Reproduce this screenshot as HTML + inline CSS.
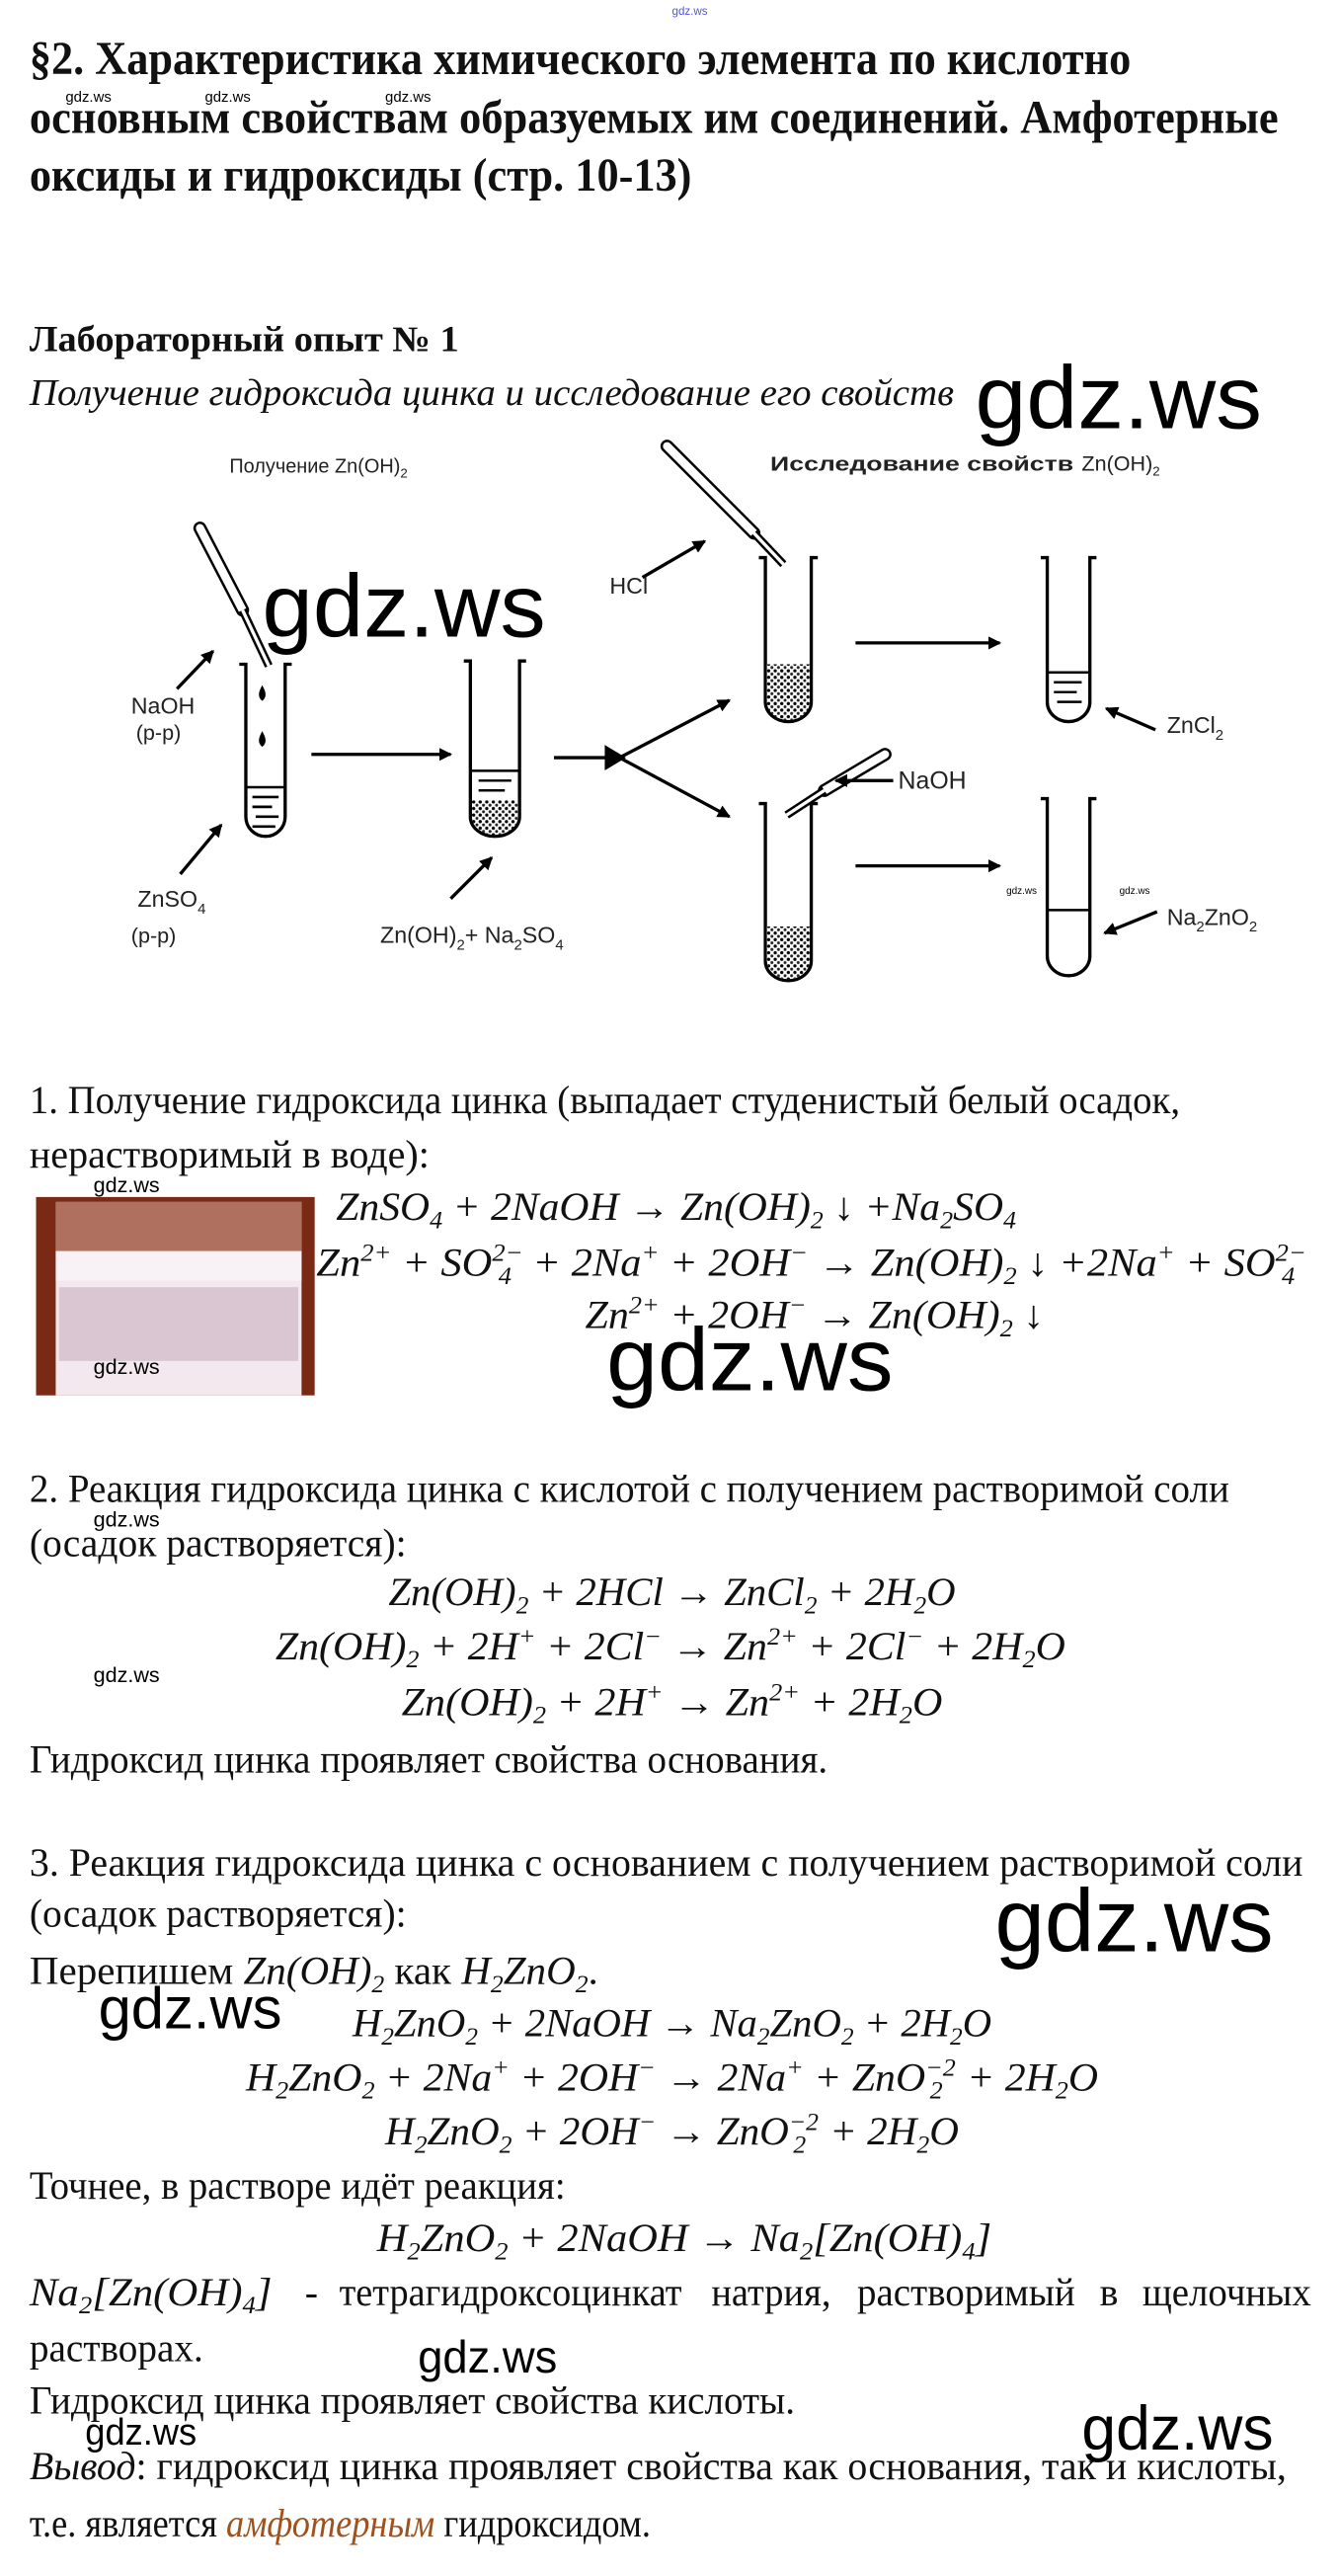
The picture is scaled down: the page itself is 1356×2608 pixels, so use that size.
<!DOCTYPE html>
<html><head><meta charset="utf-8">
<style>
html,body{margin:0;padding:0;background:#fff;}
svg{display:block;}
.t{font-family:"Liberation Serif",serif;fill:#111;}
.m{font-family:"Liberation Serif",serif;font-style:italic;fill:#111;}
.w{font-family:"Liberation Sans",sans-serif;fill:#000;}
.d{font-family:"Liberation Sans",sans-serif;fill:#222;}
</style></head><body>
<svg width="1356" height="2608" viewBox="0 0 817 1571" xmlns="http://www.w3.org/2000/svg">
<defs>
<marker id="ah" markerWidth="8" markerHeight="8" refX="7" refY="4" orient="auto" markerUnits="userSpaceOnUse">
<path d="M0,0 L8,4 L0,8 z" fill="#000"/></marker>
<pattern id="pp" width="4" height="4" patternUnits="userSpaceOnUse">
<rect width="4" height="4" fill="#fff"/><circle cx="1" cy="1" r="1" fill="#000"/><circle cx="3" cy="3" r="0.9" fill="#222"/></pattern>
</defs>

<text x="410" y="9" class="w" font-size="7" style="fill:#5555dd">gdz.ws</text>

<text x="18" y="45" class="t" font-weight="bold" font-size="29" textLength="672" lengthAdjust="spacingAndGlyphs">§2. Характеристика химического элемента по кислотно</text>
<text x="18" y="81" class="t" font-weight="bold" font-size="29" textLength="762" lengthAdjust="spacingAndGlyphs">основным свойствам образуемых им соединений. Амфотерные</text>
<text x="18" y="116" class="t" font-weight="bold" font-size="29" textLength="404" lengthAdjust="spacingAndGlyphs">оксиды и гидроксиды (стр. 10-13)</text>
<text x="40" y="62" class="w" font-size="9">gdz.ws</text>
<text x="125" y="62" class="w" font-size="9">gdz.ws</text>
<text x="235" y="62" class="w" font-size="9">gdz.ws</text>

<text x="18" y="214" class="t" font-weight="bold" font-size="22" textLength="262" lengthAdjust="spacingAndGlyphs">Лабораторный опыт № 1</text>
<text x="18" y="247" class="m" font-size="23" textLength="564" lengthAdjust="spacingAndGlyphs">Получение гидроксида цинка и исследование его свойств</text>
<text x="595" y="261" class="w" font-size="54" textLength="175" lengthAdjust="spacingAndGlyphs">gdz.ws</text>

<!-- diagram -->
<g stroke="#000" stroke-width="2" fill="none">
<text x="140" y="288" class="d" font-size="12" stroke="none">Получение  Zn(OH)<tspan dy="3" font-size="8">2</tspan></text>
<text x="470" y="287" class="d" font-size="12" font-weight="bold" stroke="none" textLength="185" lengthAdjust="spacingAndGlyphs">Исследование свойств</text>
<text x="660" y="287" class="d" font-size="13" stroke="none">Zn(OH)<tspan dy="3" font-size="8">2</tspan></text>

<!-- tube1 -->
<path d="M146,405 L150,405 L150,498 A12,12 0 0 0 174,498 L174,405 L178,405"/>
<g stroke-width="1.6"><line x1="154" y1="486" x2="170" y2="486"/><line x1="154" y1="492" x2="166" y2="492"/><line x1="156" y1="498" x2="170" y2="498"/><line x1="154" y1="504" x2="168" y2="504"/></g>
<line x1="150" y1="480" x2="174" y2="480" stroke-width="1.5"/>
<path d="M160,420 q-2,4 0,6 q2,-2 0,-6z" fill="#000"/>
<path d="M160,448 q-2,4 0,6 q2,-2 0,-6z" fill="#000"/>
<!-- pipette1 -->
<line x1="122" y1="322" x2="148" y2="372" stroke-width="8" stroke-linecap="round"/>
<line x1="122" y1="322" x2="148" y2="372" stroke-width="5" stroke="#fff" stroke-linecap="round"/>
<line x1="148" y1="372" x2="164" y2="406" stroke-width="5"/>
<line x1="148" y1="372" x2="164" y2="406" stroke-width="2" stroke="#fff"/>
<text x="80" y="435" class="d" font-size="14" stroke="none">NaOH</text>
<text x="83" y="451" class="d" font-size="13" stroke="none">(р-р)</text>
<line x1="108" y1="420" x2="130" y2="397" marker-end="url(#ah)"/>
<text x="84" y="553" class="d" font-size="14" stroke="none">ZnSO<tspan dy="4" font-size="9">4</tspan></text>
<text x="80" y="575" class="d" font-size="13" stroke="none">(р-р)</text>
<line x1="110" y1="533" x2="135" y2="503" marker-end="url(#ah)"/>

<line x1="190" y1="460" x2="275" y2="460" marker-end="url(#ah)"/>

<!-- tube2 -->
<path d="M283,403 L287,403 L287,498 A15,12 0 0 0 317,498 L317,403 L321,403"/>
<path d="M288,488 L316,488 L316,498 A14,11 0 0 1 288,498z" fill="url(#pp)" stroke="none"/>
<line x1="287" y1="470" x2="317" y2="470" stroke-width="1.5"/>
<g stroke-width="1.5"><line x1="292" y1="476" x2="312" y2="476"/><line x1="292" y1="482" x2="308" y2="482"/></g>
<text x="232" y="575" class="d" font-size="14" stroke="none">Zn(OH)<tspan dy="4" font-size="9">2</tspan><tspan dy="-4">+ Na</tspan><tspan dy="4" font-size="9">2</tspan><tspan dy="-4">SO</tspan><tspan dy="4" font-size="9">4</tspan></text>
<line x1="275" y1="548" x2="300" y2="523" marker-end="url(#ah)"/>

<!-- fork -->
<line x1="338" y1="462" x2="378" y2="462"/>
<line x1="378" y1="462" x2="445" y2="427" marker-end="url(#ah)"/>
<line x1="378" y1="462" x2="445" y2="498" marker-end="url(#ah)"/>
<path d="M370,456 L380,462 L370,468z" fill="#000"/>

<!-- tube3 -->
<path d="M463,340 L467,340 L467,428 A14,12 0 0 0 495,428 L495,340 L499,340"/>
<path d="M468,405 L494,405 L494,428 A13,11 0 0 1 468,428z" fill="url(#pp)" stroke="none"/>
<line x1="407" y1="272" x2="460" y2="325" stroke-width="8" stroke-linecap="round"/>
<line x1="407" y1="272" x2="460" y2="325" stroke-width="5" stroke="#fff" stroke-linecap="round"/>
<line x1="460" y1="325" x2="478" y2="344" stroke-width="5"/>
<line x1="460" y1="325" x2="478" y2="344" stroke-width="2" stroke="#fff"/>
<text x="372" y="362" class="d" font-size="14" stroke="none">HCl</text>
<line x1="392" y1="352" x2="430" y2="330" marker-end="url(#ah)"/>

<!-- tube4 -->
<path d="M463,490 L467,490 L467,586 A14,12 0 0 0 495,586 L495,490 L499,490"/>
<path d="M468,565 L494,565 L494,586 A13,11 0 0 1 468,586z" fill="url(#pp)" stroke="none"/>
<line x1="540" y1="460" x2="503" y2="482" stroke-width="8" stroke-linecap="round"/>
<line x1="540" y1="460" x2="503" y2="482" stroke-width="5" stroke="#fff" stroke-linecap="round"/>
<line x1="503" y1="482" x2="480" y2="497" stroke-width="5"/>
<line x1="503" y1="482" x2="480" y2="497" stroke-width="2" stroke="#fff"/>
<text x="548" y="481" class="d" font-size="15" stroke="none">NaOH</text>
<line x1="545" y1="476" x2="510" y2="476" marker-end="url(#ah)"/>

<line x1="522" y1="392" x2="610" y2="392" marker-end="url(#ah)"/>
<line x1="522" y1="528" x2="610" y2="528" marker-end="url(#ah)"/>

<!-- tube5 -->
<path d="M635,340 L639,340 L639,428 A13,12 0 0 0 665,428 L665,340 L669,340"/>
<line x1="639" y1="410" x2="665" y2="410" stroke-width="1.5"/>
<g stroke-width="1.5"><line x1="643" y1="416" x2="660" y2="416"/><line x1="643" y1="422" x2="657" y2="422"/><line x1="645" y1="428" x2="660" y2="428"/></g>
<text x="712" y="447" class="d" font-size="14" stroke="none">ZnCl<tspan dy="4" font-size="9">2</tspan></text>
<line x1="705" y1="445" x2="675" y2="432" marker-end="url(#ah)"/>

<!-- tube6 -->
<path d="M635,487 L639,487 L639,583 A13,12 0 0 0 665,583 L665,487 L669,487"/>
<line x1="639" y1="555" x2="665" y2="555" stroke-width="1.5"/>
<text x="712" y="564" class="d" font-size="14" stroke="none">Na<tspan dy="4" font-size="9">2</tspan><tspan dy="-4">ZnO</tspan><tspan dy="4" font-size="9">2</tspan></text>
<line x1="706" y1="556" x2="674" y2="569" marker-end="url(#ah)"/>
<text x="614" y="545" class="w" font-size="6" stroke="none">gdz.ws</text>
<text x="683" y="545" class="w" font-size="6" stroke="none">gdz.ws</text>
</g>
<text x="160" y="388" class="w" font-size="54" textLength="173" lengthAdjust="spacingAndGlyphs">gdz.ws</text>

<!-- section 1 -->
<text x="18" y="679" class="t" font-size="24" textLength="702" lengthAdjust="spacingAndGlyphs">1. Получение гидроксида цинка (выпадает студенистый белый осадок,</text>
<text x="18" y="712" class="t" font-size="24" textLength="244" lengthAdjust="spacingAndGlyphs">нерастворимый в воде):</text>
<text x="57" y="727" class="w" font-size="13">gdz.ws</text>
<rect x="22" y="730" width="170" height="121" fill="#7a2a14"/>
<rect x="34" y="733" width="150" height="118" fill="#f3e8ee"/>
<rect x="34" y="733" width="150" height="30" fill="#b07060"/>
<rect x="34" y="763" width="150" height="18" fill="#f8f2f6"/>
<rect x="36" y="785" width="146" height="45" fill="#d9c6d2"/>
<text x="57" y="838" class="w" font-size="13">gdz.ws</text>

<text x="205" y="744" class="m" font-size="24" textLength="415" lengthAdjust="spacingAndGlyphs">ZnSO<tspan dy="5" font-size="15">4</tspan><tspan dy="-5"> + 2NaOH → Zn(OH)</tspan><tspan dy="5" font-size="15">2</tspan><tspan dy="-5"> ↓ +Na</tspan><tspan dy="5" font-size="15">2</tspan><tspan dy="-5">SO</tspan><tspan dy="5" font-size="15">4</tspan></text>
<text x="193" y="778" class="m" font-size="24" textLength="604" lengthAdjust="spacingAndGlyphs">Zn<tspan dy="-9" font-size="15">2+</tspan><tspan dy="9"> + SO</tspan><tspan dy="-9" font-size="15">2−</tspan><tspan dx="-14" dy="14" font-size="15">4</tspan><tspan dx="6" dy="-5"> + 2Na</tspan><tspan dy="-9" font-size="15">+</tspan><tspan dy="9"> + 2OH</tspan><tspan dy="-9" font-size="15">−</tspan><tspan dy="9"> → Zn(OH)</tspan><tspan dy="5" font-size="15">2</tspan><tspan dy="-5"> ↓ +2Na</tspan><tspan dy="-9" font-size="15">+</tspan><tspan dy="9"> + SO</tspan><tspan dy="-9" font-size="15">2−</tspan><tspan dx="-14" dy="14" font-size="15">4</tspan></text>
<text x="357" y="810" class="m" font-size="24" textLength="280" lengthAdjust="spacingAndGlyphs">Zn<tspan dy="-9" font-size="15">2+</tspan><tspan dy="9"> + 2OH</tspan><tspan dy="-9" font-size="15">−</tspan><tspan dy="9"> → Zn(OH)</tspan><tspan dy="5" font-size="15">2</tspan><tspan dy="-5"> ↓</tspan></text>
<text x="370" y="848" class="w" font-size="54" textLength="175" lengthAdjust="spacingAndGlyphs">gdz.ws</text>

<!-- section 2 -->
<text x="18" y="916" class="t" font-size="24" textLength="732" lengthAdjust="spacingAndGlyphs">2. Реакция гидроксида цинка с кислотой с получением растворимой соли</text>
<text x="57" y="931" class="w" font-size="13">gdz.ws</text>
<text x="18" y="949" class="t" font-size="24" textLength="230" lengthAdjust="spacingAndGlyphs">(осадок растворяется):</text>
<text x="237" y="979" class="m" font-size="24" textLength="346" lengthAdjust="spacingAndGlyphs">Zn(OH)<tspan dy="5" font-size="15">2</tspan><tspan dy="-5"> + 2HCl → ZnCl</tspan><tspan dy="5" font-size="15">2</tspan><tspan dy="-5"> + 2H</tspan><tspan dy="5" font-size="15">2</tspan><tspan dy="-5">O</tspan></text>
<text x="168" y="1012" class="m" font-size="24" textLength="482" lengthAdjust="spacingAndGlyphs">Zn(OH)<tspan dy="5" font-size="15">2</tspan><tspan dy="-5"> + 2H</tspan><tspan dy="-9" font-size="15">+</tspan><tspan dy="9"> + 2Cl</tspan><tspan dy="-9" font-size="15">−</tspan><tspan dy="9"> → Zn</tspan><tspan dy="-9" font-size="15">2+</tspan><tspan dy="9"> + 2Cl</tspan><tspan dy="-9" font-size="15">−</tspan><tspan dy="9"> + 2H</tspan><tspan dy="5" font-size="15">2</tspan><tspan dy="-5">O</tspan></text>
<text x="57" y="1026" class="w" font-size="13">gdz.ws</text>
<text x="245" y="1046" class="m" font-size="24" textLength="330" lengthAdjust="spacingAndGlyphs">Zn(OH)<tspan dy="5" font-size="15">2</tspan><tspan dy="-5"> + 2H</tspan><tspan dy="-9" font-size="15">+</tspan><tspan dy="9"> → Zn</tspan><tspan dy="-9" font-size="15">2+</tspan><tspan dy="9"> + 2H</tspan><tspan dy="5" font-size="15">2</tspan><tspan dy="-5">O</tspan></text>
<text x="18" y="1081" class="t" font-size="24" textLength="487" lengthAdjust="spacingAndGlyphs">Гидроксид цинка проявляет свойства основания.</text>

<!-- section 3 -->
<text x="18" y="1144" class="t" font-size="24" textLength="777" lengthAdjust="spacingAndGlyphs">3. Реакция гидроксида цинка с основанием с получением растворимой соли</text>
<text x="18" y="1175" class="t" font-size="24" textLength="230" lengthAdjust="spacingAndGlyphs">(осадок растворяется):</text>
<text x="607" y="1190" class="w" font-size="54" textLength="170" lengthAdjust="spacingAndGlyphs">gdz.ws</text>
<text x="18" y="1210" class="t" font-size="24" textLength="347" lengthAdjust="spacingAndGlyphs">Перепишем <tspan font-style="italic">Zn(OH)</tspan><tspan dy="5" font-size="15" font-style="italic">2</tspan><tspan dy="-5"> как </tspan><tspan font-style="italic">H</tspan><tspan dy="5" font-size="15" font-style="italic">2</tspan><tspan dy="-5" font-style="italic">ZnO</tspan><tspan dy="5" font-size="15" font-style="italic">2</tspan><tspan dy="-5">.</tspan></text>
<text x="60" y="1237" class="w" font-size="36" textLength="112" lengthAdjust="spacingAndGlyphs">gdz.ws</text>
<text x="215" y="1242" class="m" font-size="24" textLength="390" lengthAdjust="spacingAndGlyphs">H<tspan dy="5" font-size="15">2</tspan><tspan dy="-5">ZnO</tspan><tspan dy="5" font-size="15">2</tspan><tspan dy="-5"> + 2NaOH → Na</tspan><tspan dy="5" font-size="15">2</tspan><tspan dy="-5">ZnO</tspan><tspan dy="5" font-size="15">2</tspan><tspan dy="-5"> + 2H</tspan><tspan dy="5" font-size="15">2</tspan><tspan dy="-5">O</tspan></text>
<text x="150" y="1275" class="m" font-size="24" textLength="520" lengthAdjust="spacingAndGlyphs">H<tspan dy="5" font-size="15">2</tspan><tspan dy="-5">ZnO</tspan><tspan dy="5" font-size="15">2</tspan><tspan dy="-5"> + 2Na</tspan><tspan dy="-9" font-size="15">+</tspan><tspan dy="9"> + 2OH</tspan><tspan dy="-9" font-size="15">−</tspan><tspan dy="9"> → 2Na</tspan><tspan dy="-9" font-size="15">+</tspan><tspan dy="9"> + ZnO</tspan><tspan dy="-9" font-size="15">−2</tspan><tspan dx="-15" dy="14" font-size="15">2</tspan><tspan dx="8" dy="-5"> + 2H</tspan><tspan dy="5" font-size="15">2</tspan><tspan dy="-5">O</tspan></text>
<text x="235" y="1308" class="m" font-size="24" textLength="350" lengthAdjust="spacingAndGlyphs">H<tspan dy="5" font-size="15">2</tspan><tspan dy="-5">ZnO</tspan><tspan dy="5" font-size="15">2</tspan><tspan dy="-5"> + 2OH</tspan><tspan dy="-9" font-size="15">−</tspan><tspan dy="9"> → ZnO</tspan><tspan dy="-9" font-size="15">−2</tspan><tspan dx="-15" dy="14" font-size="15">2</tspan><tspan dx="8" dy="-5"> + 2H</tspan><tspan dy="5" font-size="15">2</tspan><tspan dy="-5">O</tspan></text>
<text x="18" y="1341" class="t" font-size="24" textLength="327" lengthAdjust="spacingAndGlyphs">Точнее, в растворе идёт реакция:</text>
<text x="230" y="1373" class="m" font-size="24" textLength="375" lengthAdjust="spacingAndGlyphs">H<tspan dy="5" font-size="15">2</tspan><tspan dy="-5">ZnO</tspan><tspan dy="5" font-size="15">2</tspan><tspan dy="-5"> + 2NaOH → Na</tspan><tspan dy="5" font-size="15">2</tspan><tspan dy="-5">[Zn(OH)</tspan><tspan dy="5" font-size="15">4</tspan><tspan dy="-5">]</tspan></text>
<text x="18" y="1406" class="m" font-size="24" textLength="148" lengthAdjust="spacingAndGlyphs">Na<tspan dy="5" font-size="15">2</tspan><tspan dy="-5">[Zn(OH)</tspan><tspan dy="5" font-size="15">4</tspan><tspan dy="-5">]</tspan></text>
<text x="186" y="1406" class="t" font-size="24">-</text>
<text x="207" y="1406" class="t" font-size="24" textLength="209" lengthAdjust="spacingAndGlyphs">тетрагидроксоцинкат</text>
<text x="434" y="1406" class="t" font-size="24" textLength="73" lengthAdjust="spacingAndGlyphs">натрия,</text>
<text x="523" y="1406" class="t" font-size="24" textLength="133" lengthAdjust="spacingAndGlyphs">растворимый</text>
<text x="671" y="1406" class="t" font-size="24">в</text>
<text x="697" y="1406" class="t" font-size="24" textLength="103" lengthAdjust="spacingAndGlyphs">щелочных</text>
<text x="18" y="1440" class="t" font-size="24" textLength="106" lengthAdjust="spacingAndGlyphs">растворах.</text>
<text x="255" y="1447" class="w" font-size="28" textLength="85" lengthAdjust="spacingAndGlyphs">gdz.ws</text>
<text x="18" y="1472" class="t" font-size="24" textLength="467" lengthAdjust="spacingAndGlyphs">Гидроксид цинка проявляет свойства кислоты.</text>
<text x="52" y="1491" class="w" font-size="23" textLength="68" lengthAdjust="spacingAndGlyphs">gdz.ws</text>
<text x="660" y="1494" class="w" font-size="38" textLength="117" lengthAdjust="spacingAndGlyphs">gdz.ws</text>
<text x="18" y="1512" class="t" font-size="24" textLength="767" lengthAdjust="spacingAndGlyphs"><tspan font-style="italic">Вывод</tspan>: гидроксид цинка проявляет свойства как основания, так и кислоты,</text>
<text x="18" y="1547" class="t" font-size="24" textLength="379" lengthAdjust="spacingAndGlyphs">т.е. является <tspan font-style="italic" style="fill:#a0521e">амфотерным</tspan> гидроксидом.</text>
</svg>
</body></html>
